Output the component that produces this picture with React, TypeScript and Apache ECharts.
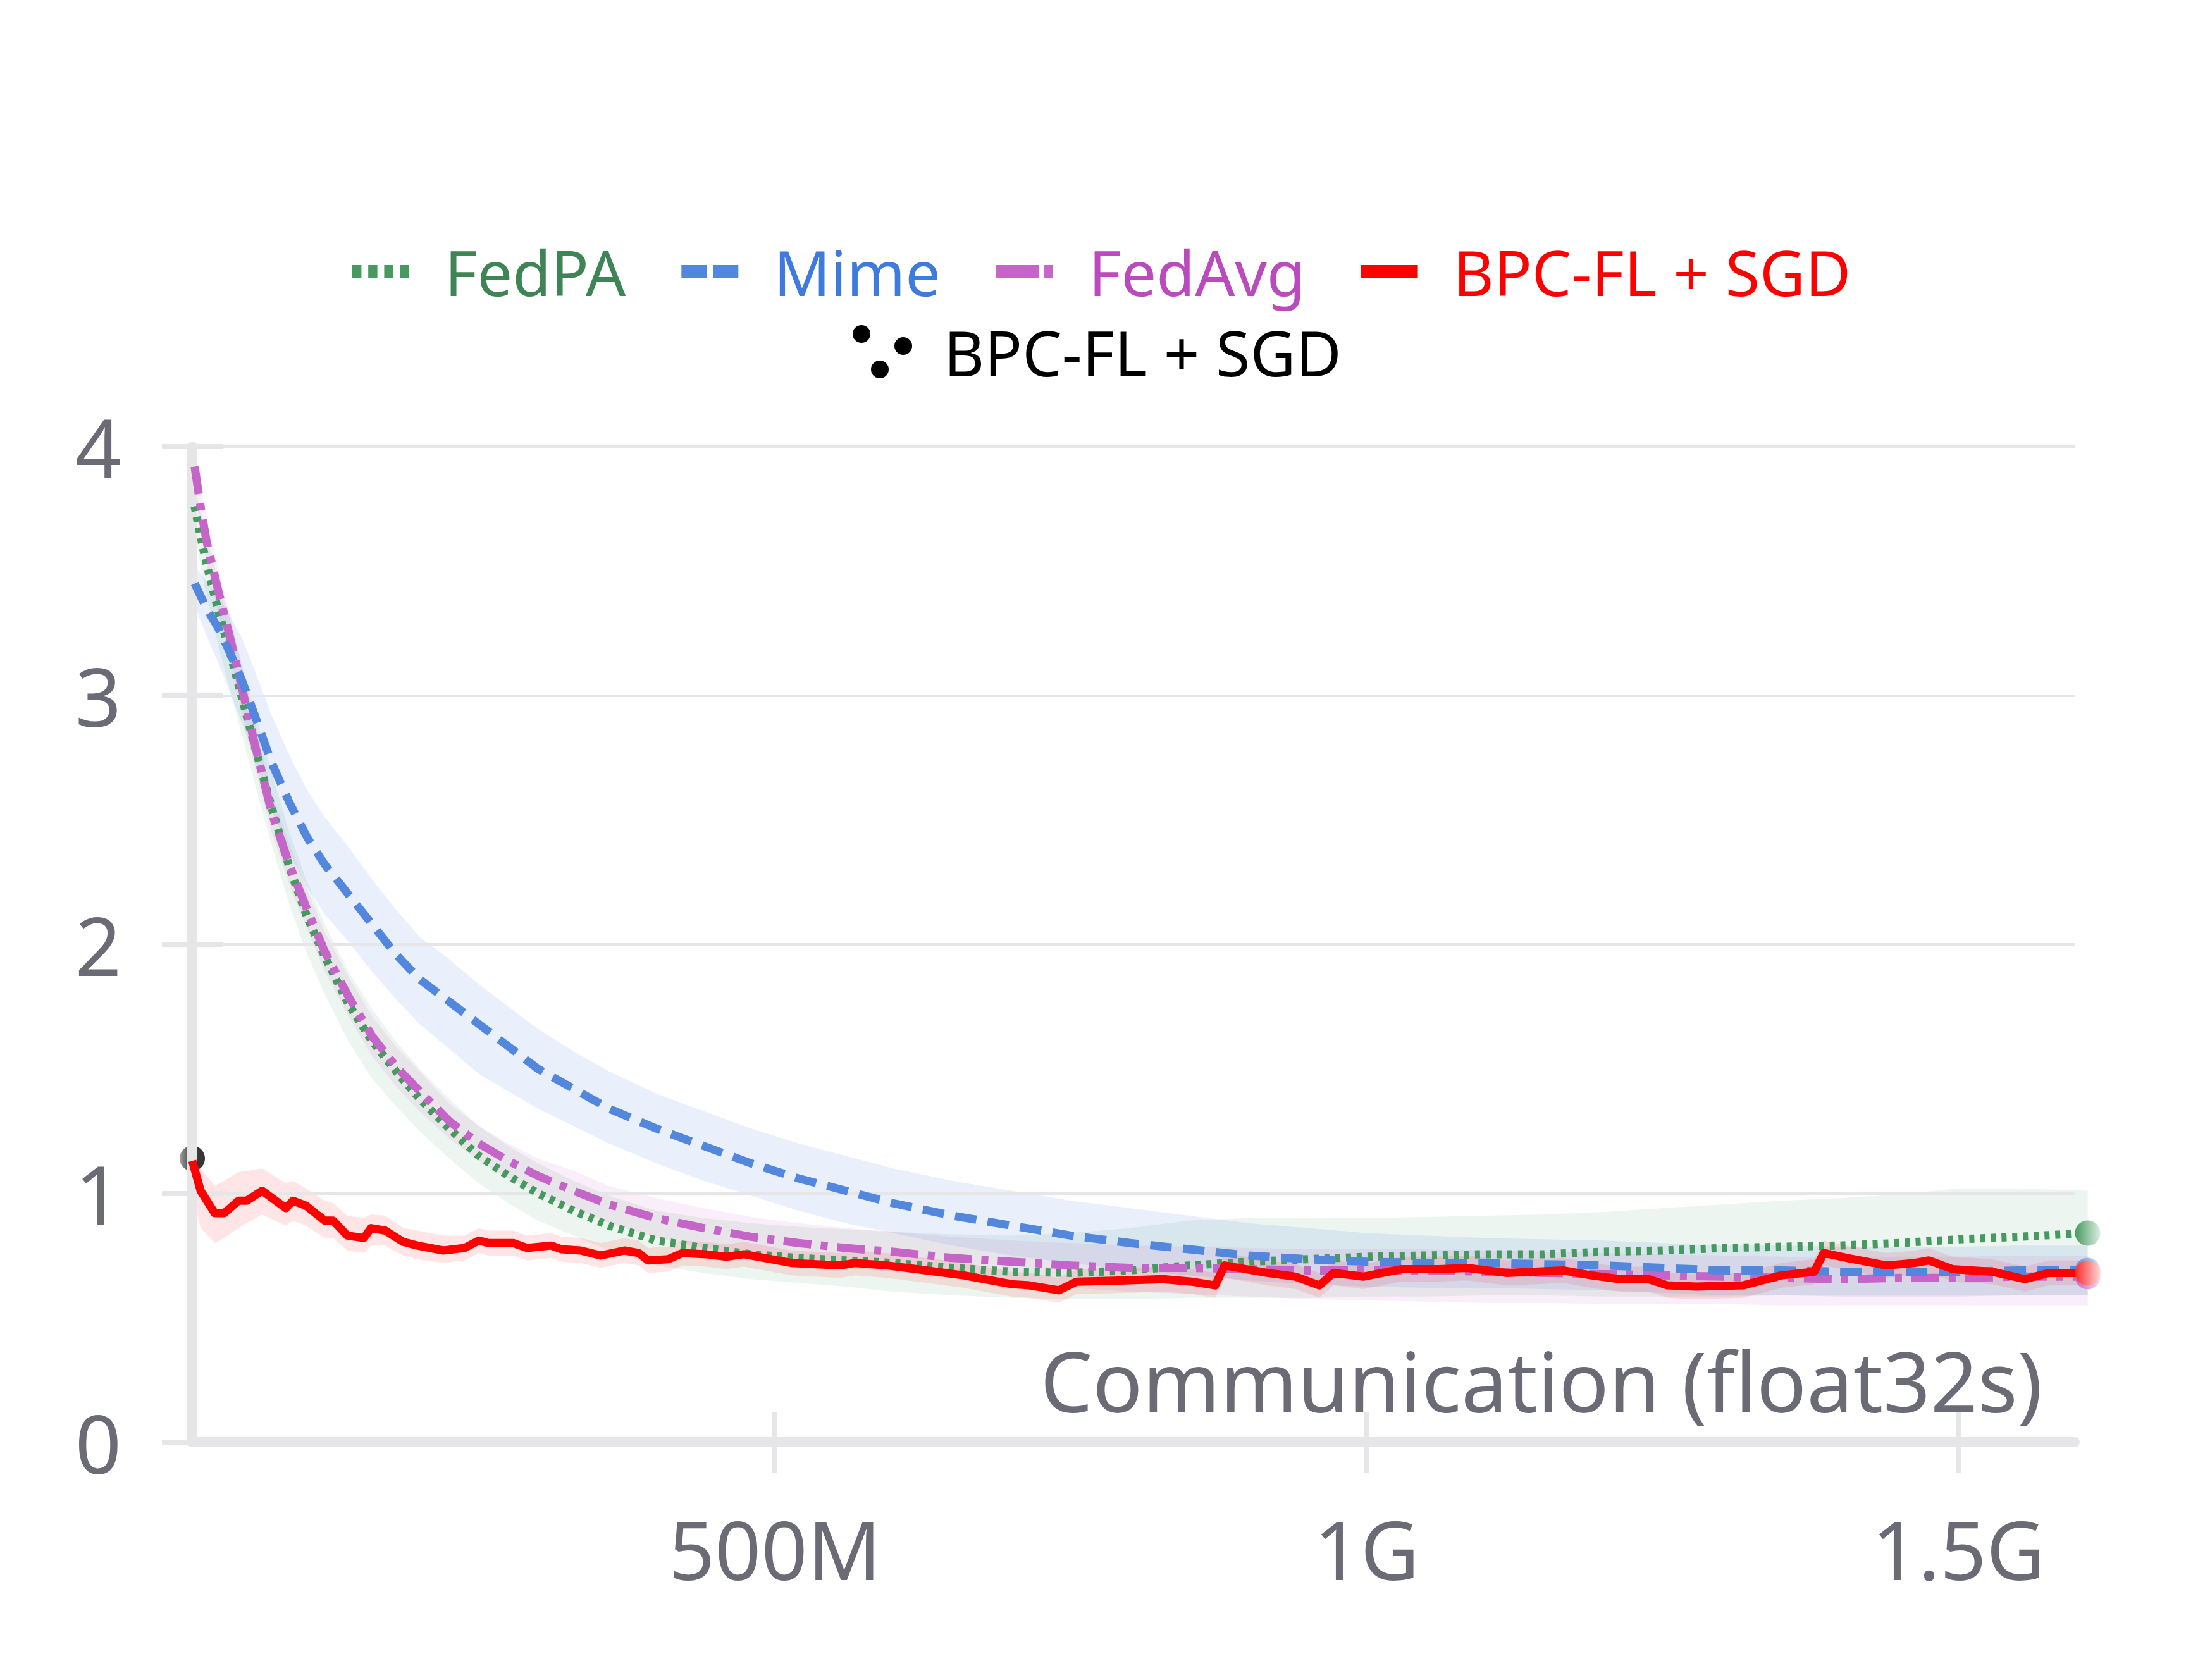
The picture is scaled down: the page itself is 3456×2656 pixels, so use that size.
import React, { useEffect, useRef } from 'react';
import * as echarts from 'echarts';

// ---------- data (x in millions of float32s) ----------
const xGrid = [10, 15, 20, 30, 40, 50, 60, 75, 90, 105, 120, 140, 160, 180, 200, 225, 250, 275, 300, 330, 360, 400, 440, 480, 520, 560, 600, 650, 700, 750, 800, 850, 900, 950, 1000, 1050, 1100, 1150, 1200, 1250, 1300, 1350, 1400, 1450, 1500, 1550, 1609];

const fedpa = [3.76, 3.64, 3.53, 3.34, 3.17, 2.99, 2.81, 2.55, 2.31, 2.11, 1.95, 1.76, 1.61, 1.49, 1.38, 1.26, 1.15, 1.07, 1.00, 0.93, 0.87, 0.81, 0.78, 0.755, 0.74, 0.73, 0.72, 0.70, 0.685, 0.68, 0.69, 0.71, 0.725, 0.735, 0.745, 0.75, 0.755, 0.755, 0.765, 0.77, 0.78, 0.785, 0.79, 0.80, 0.815, 0.825, 0.84];
const fedpaHi = [3.84, 3.74, 3.64, 3.46, 3.30, 3.12, 2.95, 2.69, 2.45, 2.25, 2.08, 1.89, 1.74, 1.61, 1.50, 1.38, 1.27, 1.19, 1.12, 1.05, 0.99, 0.93, 0.90, 0.88, 0.865, 0.855, 0.845, 0.835, 0.83, 0.84, 0.86, 0.89, 0.90, 0.90, 0.90, 0.905, 0.91, 0.915, 0.925, 0.94, 0.955, 0.97, 0.98, 0.995, 1.02, 1.02, 1.01];
const fedpaLo = [3.66, 3.52, 3.40, 3.20, 3.02, 2.84, 2.66, 2.40, 2.16, 1.96, 1.80, 1.61, 1.46, 1.35, 1.25, 1.14, 1.04, 0.96, 0.89, 0.83, 0.77, 0.71, 0.68, 0.655, 0.64, 0.625, 0.605, 0.59, 0.58, 0.575, 0.575, 0.58, 0.58, 0.58, 0.585, 0.585, 0.59, 0.59, 0.585, 0.585, 0.585, 0.59, 0.59, 0.59, 0.59, 0.59, 0.59];

const mime = [3.45, 3.40, 3.35, 3.27, 3.17, 3.06, 2.93, 2.73, 2.57, 2.43, 2.32, 2.20, 2.08, 1.96, 1.86, 1.77, 1.68, 1.59, 1.50, 1.42, 1.34, 1.26, 1.19, 1.12, 1.06, 1.01, 0.96, 0.91, 0.87, 0.83, 0.80, 0.775, 0.75, 0.735, 0.725, 0.72, 0.72, 0.715, 0.71, 0.70, 0.69, 0.69, 0.685, 0.685, 0.685, 0.69, 0.69];
const mimeHi = [3.52, 3.49, 3.46, 3.40, 3.32, 3.23, 3.11, 2.92, 2.76, 2.62, 2.51, 2.39, 2.26, 2.14, 2.03, 1.94, 1.84, 1.75, 1.66, 1.57, 1.49, 1.40, 1.33, 1.26, 1.20, 1.15, 1.10, 1.05, 1.01, 0.97, 0.94, 0.91, 0.88, 0.86, 0.84, 0.83, 0.82, 0.815, 0.81, 0.80, 0.79, 0.79, 0.785, 0.785, 0.785, 0.79, 0.79];
const mimeLo = [3.36, 3.30, 3.24, 3.13, 3.01, 2.89, 2.75, 2.54, 2.37, 2.23, 2.12, 2.01, 1.89, 1.78, 1.68, 1.58, 1.48, 1.41, 1.34, 1.27, 1.20, 1.12, 1.05, 0.99, 0.93, 0.88, 0.84, 0.79, 0.75, 0.72, 0.69, 0.67, 0.65, 0.635, 0.625, 0.62, 0.62, 0.615, 0.61, 0.60, 0.59, 0.59, 0.585, 0.585, 0.585, 0.59, 0.59];

const fedavg = [3.92, 3.76, 3.62, 3.42, 3.23, 3.03, 2.82, 2.53, 2.32, 2.14, 1.97, 1.79, 1.63, 1.51, 1.41, 1.29, 1.20, 1.13, 1.07, 1.01, 0.955, 0.90, 0.86, 0.825, 0.80, 0.78, 0.765, 0.74, 0.725, 0.71, 0.70, 0.70, 0.695, 0.69, 0.69, 0.69, 0.685, 0.68, 0.675, 0.67, 0.665, 0.66, 0.655, 0.66, 0.66, 0.665, 0.665];
const fedavgHi = [4.00, 3.85, 3.71, 3.51, 3.32, 3.12, 2.91, 2.61, 2.40, 2.22, 2.05, 1.87, 1.71, 1.59, 1.49, 1.36, 1.27, 1.20, 1.14, 1.09, 1.03, 0.98, 0.94, 0.905, 0.88, 0.86, 0.845, 0.825, 0.81, 0.80, 0.79, 0.785, 0.78, 0.775, 0.775, 0.775, 0.77, 0.765, 0.76, 0.755, 0.75, 0.745, 0.74, 0.745, 0.745, 0.75, 0.75];
const fedavgLo = [3.84, 3.67, 3.53, 3.33, 3.14, 2.94, 2.73, 2.45, 2.24, 2.06, 1.89, 1.71, 1.55, 1.43, 1.33, 1.22, 1.13, 1.06, 1.00, 0.94, 0.88, 0.82, 0.78, 0.745, 0.72, 0.70, 0.685, 0.66, 0.64, 0.62, 0.605, 0.595, 0.585, 0.575, 0.57, 0.565, 0.56, 0.56, 0.555, 0.555, 0.555, 0.55, 0.55, 0.55, 0.55, 0.55, 0.55];

const redX = [8, 15, 27, 35, 47, 54, 67, 87, 93, 104, 120, 127, 139, 153, 159, 171, 186, 198, 220, 238, 250, 258, 279, 291, 311, 320, 336, 353, 373, 385, 393, 410, 422, 442, 459, 474, 514, 555, 568, 595, 620, 660, 700, 715, 740, 755, 796, 828, 852, 872, 880, 916, 940, 960, 972, 997, 1029, 1061, 1085, 1118, 1142, 1166, 1190, 1214, 1238, 1254, 1278, 1318, 1350, 1378, 1386, 1406, 1439, 1463, 1475, 1495, 1528, 1556, 1576, 1609];
const redY = [1.13, 1.01, 0.92, 0.92, 0.97, 0.97, 1.01, 0.94, 0.97, 0.95, 0.89, 0.89, 0.83, 0.82, 0.86, 0.85, 0.805, 0.79, 0.77, 0.78, 0.81, 0.80, 0.80, 0.78, 0.79, 0.775, 0.77, 0.75, 0.77, 0.76, 0.73, 0.735, 0.76, 0.755, 0.745, 0.755, 0.72, 0.71, 0.72, 0.71, 0.695, 0.67, 0.635, 0.63, 0.61, 0.645, 0.65, 0.655, 0.645, 0.63, 0.71, 0.68, 0.665, 0.63, 0.68, 0.665, 0.695, 0.695, 0.70, 0.68, 0.685, 0.69, 0.67, 0.655, 0.655, 0.63, 0.625, 0.63, 0.67, 0.685, 0.76, 0.74, 0.71, 0.72, 0.73, 0.695, 0.685, 0.655, 0.68, 0.68];
const redHi = [1.20, 1.10, 1.03, 1.05, 1.085, 1.09, 1.10, 1.04, 1.05, 1.02, 0.97, 0.96, 0.91, 0.90, 0.915, 0.91, 0.86, 0.85, 0.83, 0.83, 0.86, 0.85, 0.85, 0.83, 0.84, 0.825, 0.82, 0.80, 0.82, 0.81, 0.78, 0.785, 0.81, 0.805, 0.795, 0.805, 0.77, 0.76, 0.77, 0.76, 0.745, 0.72, 0.685, 0.68, 0.66, 0.695, 0.70, 0.705, 0.695, 0.68, 0.76, 0.73, 0.715, 0.68, 0.73, 0.715, 0.745, 0.745, 0.75, 0.73, 0.735, 0.74, 0.72, 0.705, 0.705, 0.68, 0.675, 0.68, 0.72, 0.735, 0.81, 0.79, 0.76, 0.77, 0.78, 0.745, 0.735, 0.705, 0.73, 0.73];
const redLo = [1.00, 0.86, 0.80, 0.82, 0.86, 0.88, 0.915, 0.87, 0.89, 0.87, 0.82, 0.82, 0.77, 0.76, 0.79, 0.79, 0.75, 0.735, 0.72, 0.73, 0.76, 0.75, 0.75, 0.73, 0.74, 0.725, 0.72, 0.70, 0.72, 0.71, 0.68, 0.685, 0.71, 0.705, 0.695, 0.705, 0.67, 0.66, 0.67, 0.66, 0.645, 0.62, 0.585, 0.58, 0.56, 0.595, 0.60, 0.605, 0.595, 0.58, 0.66, 0.63, 0.615, 0.58, 0.63, 0.615, 0.645, 0.645, 0.65, 0.63, 0.635, 0.64, 0.62, 0.605, 0.605, 0.58, 0.575, 0.58, 0.62, 0.635, 0.71, 0.69, 0.66, 0.67, 0.68, 0.645, 0.635, 0.605, 0.63, 0.63];

const scatterX = [8];
const scatterY = [1.14];

const xTickValues = [500, 1000, 1500];
const xTickLabels = ['500M', '1G', '1.5G'];
const yTickValues = [0, 1, 2, 3, 4];

const seriesNames = ['FedPA', 'Mime', 'FedAvg', 'BPC-FL + SGD'];

// ---------- styles ----------
const FONT = "'Noto Sans', 'Open Sans', sans-serif";
const AXIS_GRAY = '#e6e6e9';
const LABEL_GRAY = '#6b6b76';

const GREEN = '#479a5f';
const BLUE = '#5387dd';
const MAGENTA = '#c565c7';
const RED = '#ff0000';
const LINE_W = 13;

const ICON_GREEN = 'path://M0 0h14.4v20h-14.4z M25.2 0h14.4v20h-14.4z M50.4 0h14.4v20h-14.4z M75.6 0h14.4v20h-14.4z';
const ICON_BLUE = 'path://M0 0h40v20h-40z M50 0h40v20h-40z';
const ICON_MAGENTA = 'path://M0 0h67v20h-67z M76 0h14v20h-14z';
const ICON_RED = 'path://M0 0h90v20h-90z';
const ICON_DOTS = 'path://M0 14a14 14 0 1 0 28 0a14 14 0 1 0 -28 0z M66 33a14 14 0 1 0 28 0a14 14 0 1 0 -28 0z M29 70a14 14 0 1 0 28 0a14 14 0 1 0 -28 0z';

function grad(c0: string, c1: string) {
  return new echarts.graphic.LinearGradient(0, 0, 1, 0, [
    { offset: 0, color: c0 },
    { offset: 1, color: c1 },
  ]);
}

function lineData(xs: number[], ys: number[], dotColor: any) {
  return xs.map((x, i) =>
    i === xs.length - 1
      ? { value: [x, ys[i]], symbol: 'circle', symbolSize: 40, itemStyle: { color: dotColor } }
      : { value: [x, ys[i]], symbol: 'none' }
  );
}

function bandSeries(xs: number[], lo: number[], hi: number[], fill: string) {
  return {
    type: 'custom',
    silent: true,
    clip: false,
    z: 2,
    data: xs.map((x, i) => [x, lo[i], hi[i]]),
    encode: { x: 0, y: [1, 2] },
    renderItem: (params: any, api: any) => {
      if (params.dataIndex !== 0) return null;
      const up = xs.map((x, i) => api.coord([x, hi[i]]));
      const dn = xs.map((x, i) => api.coord([x, lo[i]])).reverse();
      return { type: 'polygon', shape: { points: up.concat(dn) }, style: { fill } };
    },
  };
}

function lineSeries(name: string, xs: number[], ys: number[], color: string, type: any, dot: any, z: number) {
  return {
    type: 'line',
    name,
    data: lineData(xs, ys, dot),
    symbol: 'circle',
    showSymbol: true,
    showAllSymbol: true,
    clip: false,
    z,
    itemStyle: { color },
    lineStyle: { color, width: LINE_W, type, cap: 'butt', join: 'round' },
    silent: true,
  };
}

export default function App() {
  const ref = useRef<HTMLDivElement>(null);
  useEffect(() => {
    document.body.style.margin = '0';
    const chart = echarts.init(ref.current as HTMLDivElement, null, { renderer: 'svg', width: 3456, height: 2656 });
    const axisLine = { show: true, lineStyle: { color: AXIS_GRAY, width: 16 } };
    const axisLabel = { color: LABEL_GRAY, fontSize: 128, fontFamily: FONT };
    const option: any = {
      animation: false,
      backgroundColor: '#ffffff',
      grid: { left: 304, right: 176, top: 706, bottom: 376, containLabel: false },
      xAxis: [
        {
          type: 'value',
          min: 8,
          max: 1598,
          z: 5,
          axisLine,
          axisTick: { show: true, customValues: xTickValues, length: 48, lineStyle: { color: AXIS_GRAY, width: 8 } },
          axisLabel: {
            ...axisLabel,
            customValues: xTickValues,
            margin: 104,
            formatter: (v: number) => xTickLabels[xTickValues.indexOf(v)] ?? '',
          },
          splitLine: { show: false },
        },
        {
          type: 'value',
          min: 8,
          max: 1598,
          position: 'bottom',
          z: 5,
          axisLine: { show: false },
          axisTick: { show: true, inside: true, customValues: xTickValues, length: 48, lineStyle: { color: AXIS_GRAY, width: 8 } },
          axisLabel: { show: false },
          splitLine: { show: false },
        },
      ],
      yAxis: [
        {
          type: 'value',
          min: 0,
          max: 4,
          interval: 1,
          z: 5,
          axisLine,
          axisTick: { show: true, length: 48, lineStyle: { color: AXIS_GRAY, width: 8 } },
          axisLabel: { ...axisLabel, margin: 112, formatter: (v: number) => (yTickValues.includes(v) ? String(v) : '') },
          splitLine: { show: true, lineStyle: { color: AXIS_GRAY, width: 4 } },
        },
        {
          type: 'value',
          min: 0,
          max: 4,
          interval: 1,
          position: 'left',
          z: 5,
          axisLine: { show: false },
          axisTick: { show: true, inside: true, length: 48, lineStyle: { color: AXIS_GRAY, width: 8 } },
          axisLabel: { show: false },
          splitLine: { show: false },
        },
      ],
      legend: [
        {
          left: 552,
          top: 374,
          orient: 'horizontal',
          itemWidth: 90,
          itemHeight: 20,
          itemGap: 88,
          selectedMode: false,
          symbolKeepAspect: false,
          textStyle: { fontSize: 99, fontFamily: FONT, lineHeight: 100, padding: [0, 0, 0, 51] },
          data: [
            { name: seriesNames[0], icon: ICON_GREEN, itemStyle: { color: GREEN, borderWidth: 0 }, textStyle: { color: '#3f8454' } },
            { name: seriesNames[1], icon: ICON_BLUE, itemStyle: { color: BLUE, borderWidth: 0 }, textStyle: { color: '#3f7ade' } },
            { name: seriesNames[2], icon: ICON_MAGENTA, itemStyle: { color: MAGENTA, borderWidth: 0 }, textStyle: { color: '#bb4abe' } },
            { name: seriesNames[3], icon: ICON_RED, itemStyle: { color: RED, borderWidth: 0 }, textStyle: { color: RED } },
          ],
        },
        {
          left: 1343,
          top: 501,
          orient: 'horizontal',
          itemWidth: 94,
          itemHeight: 84,
          selectedMode: false,
          symbolKeepAspect: false,
          textStyle: { fontSize: 99, fontFamily: FONT, lineHeight: 100, padding: [0, 0, 0, 45] },
          data: [{ name: seriesNames[3], icon: ICON_DOTS, itemStyle: { color: '#000000', borderWidth: 0 }, textStyle: { color: '#000000' } }],
        },
      ],
      graphic: [
        {
          type: 'text',
          right: 227,
          top: 2116,
          silent: true,
          style: { text: 'Communication (float32s)', fontSize: 131, fontFamily: FONT, fill: LABEL_GRAY },
          z: 10,
        },
      ],
      series: [
        bandSeries(xGrid, fedpaLo, fedpaHi, 'rgba(71,154,95,0.10)'),
        bandSeries(xGrid, mimeLo, mimeHi, 'rgba(83,135,221,0.13)'),
        bandSeries(xGrid, fedavgLo, fedavgHi, 'rgba(197,101,199,0.11)'),
        bandSeries(redX, redLo, redHi, 'rgba(255,0,0,0.10)'),
        lineSeries(seriesNames[0], xGrid, fedpa, GREEN, [8, 9], grad(GREEN, '#dcede1'), 6),
        lineSeries(seriesNames[2], xGrid, fedavg, MAGENTA, [44, 15, 11, 15], grad(MAGENTA, '#f3dcf3'), 6),
        lineSeries(seriesNames[1], xGrid, mime, BLUE, [34, 18], grad(BLUE, '#dde7f8'), 6),
        lineSeries(seriesNames[3], redX, redY, RED, 'solid', grad('#ff2a2a', '#ffd6d6'), 7),
        {
          type: 'scatter',
          name: seriesNames[3],
          data: scatterX.map((x, i) => [x, scatterY[i]]),
          symbol: 'circle',
          symbolSize: 40,
          clip: false,
          z: 3,
          silent: true,
          itemStyle: {
            color: new echarts.graphic.LinearGradient(0, 0, 1, 0, [
              { offset: 0, color: '#8a8a8a' },
              { offset: 0.45, color: '#111111' },
              { offset: 1, color: '#000000' },
            ]),
          },
        },
      ],
    };
    chart.setOption(option);
    return () => chart.dispose();
  }, []);
  return <div ref={ref} style={{ width: 3456, height: 2656 }} />;
}
